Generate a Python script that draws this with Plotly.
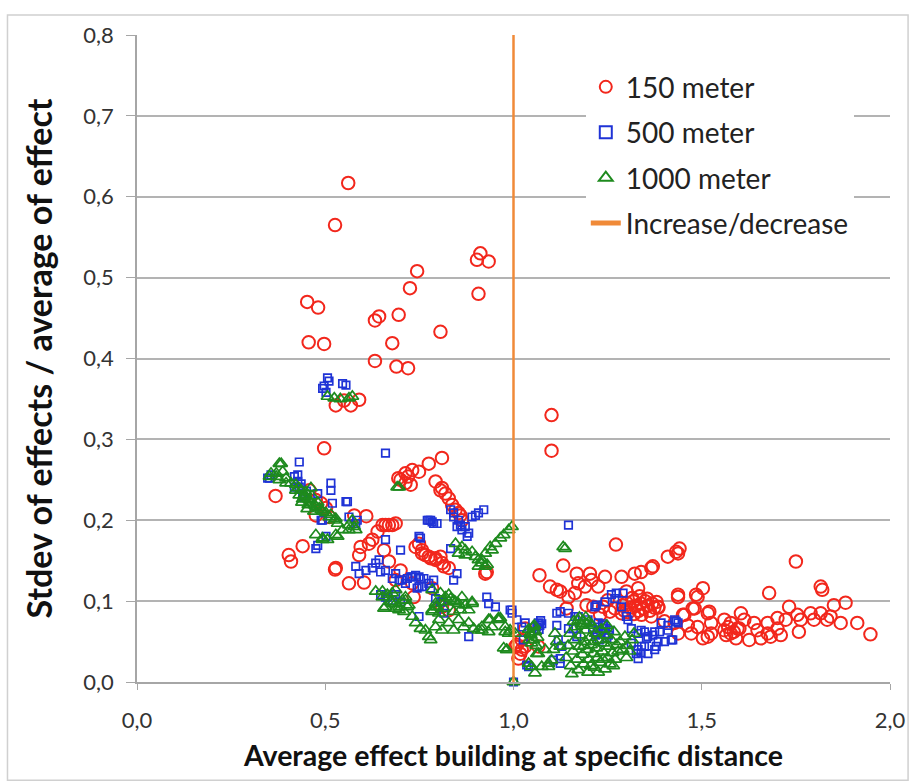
import plotly.graph_objects as go

# ---------------- data ----------------
red_x = [0.561,0.526,0.912,0.903,0.934,0.907,0.744,0.725,0.452,0.481,0.695,0.643,0.632,0.806,0.456,0.497,0.678,0.632,0.689,0.720,0.528,0.568,0.590,0.550,1.101,1.101,
         0.497,0.368,0.403,0.409,0.440,0.526,0.563,0.603,0.590,0.616,0.639,0.609,0.577,0.652,0.660,0.669,0.678,0.687,0.656,0.669,0.700,0.687,0.458,0.475,0.489,0.502,0.475,0.511,0.594,0.625,0.528,
         0.694,0.713,0.731,0.749,0.775,0.810,0.713,0.727,0.700,0.720,
         0.793,0.806,0.819,0.828,0.837,0.846,0.859,0.863,0.810,0.854,
         0.740,0.749,0.757,0.757,0.766,0.775,0.780,0.793,0.793,0.806,0.810,0.815,0.828,0.731,0.784,0.735,0.810,0.828,0.925,0.929,
         1.005,1.018,1.031,1.009,1.022,1.031,1.066,1.022,1.013,
         1.272,1.132,1.069,1.097,1.115,1.124,1.168,1.203,1.243,1.287,1.322,1.339,1.366,1.370,1.410,1.432,1.441,1.437,1.172,1.190,1.163,1.146,1.141,1.207,1.225,1.300,1.331,
         1.290,1.300,1.310,1.318,1.325,1.332,1.338,1.345,1.350,1.356,1.362,1.368,1.374,1.380,1.305,1.320,1.340,1.315,1.335,1.355,1.385,1.295,
         1.194,1.212,1.238,1.256,1.269,1.287,1.250,1.230,
         1.437,1.485,1.503,1.481,1.450,1.516,1.525,1.489,1.463,1.516,1.560,1.577,1.604,1.613,1.595,1.577,1.591,1.679,1.750,1.816,1.820,1.882,1.851,1.913,1.948,
         1.869,1.833,1.816,1.789,1.763,1.754,1.732,1.723,1.701,1.701,1.675,1.675,1.648,1.639,1.626,1.657,1.683,1.710,1.758,1.798,1.842,
         1.454,1.472,1.503,1.525,1.401,1.428,1.437,1.366,1.384,1.476,1.520,1.489,1.437,
         1.560,1.570,1.585,1.600,1.565]
red_y = [0.617,0.565,0.530,0.522,0.520,0.480,0.508,0.487,0.470,0.463,0.454,0.452,0.447,0.433,0.420,0.418,0.419,0.397,0.390,0.388,0.342,0.342,0.349,0.348,0.330,0.286,
         0.289,0.230,0.157,0.149,0.168,0.139,0.122,0.123,0.157,0.171,0.186,0.205,0.206,0.194,0.194,0.194,0.194,0.196,0.163,0.149,0.138,0.126,0.237,0.225,0.221,0.215,0.206,0.204,0.167,0.176,0.141,
         0.252,0.258,0.262,0.260,0.270,0.277,0.246,0.244,0.250,0.254,
         0.248,0.237,0.233,0.227,0.219,0.213,0.206,0.200,0.240,0.209,
         0.167,0.171,0.163,0.159,0.157,0.155,0.153,0.153,0.151,0.155,0.147,0.143,0.141,0.122,0.116,0.105,0.093,0.089,0.134,0.136,
         0.044,0.035,0.044,0.046,0.052,0.066,0.044,0.040,0.029,
         0.170,0.144,0.132,0.118,0.114,0.112,0.134,0.134,0.130,0.130,0.134,0.136,0.141,0.143,0.155,0.161,0.165,0.159,0.122,0.118,0.110,0.105,0.091,0.126,0.118,0.112,0.116,
         0.095,0.098,0.092,0.100,0.094,0.088,0.097,0.091,0.100,0.094,0.088,0.097,0.092,0.099,0.086,0.084,0.083,0.104,0.106,0.103,0.092,0.088,
         0.095,0.093,0.093,0.087,0.091,0.085,0.101,0.083,
         0.108,0.108,0.116,0.091,0.083,0.085,0.073,0.068,0.070,0.056,0.077,0.073,0.085,0.077,0.066,0.060,0.054,0.110,0.149,0.118,0.114,0.098,0.095,0.073,0.059,
         0.073,0.077,0.085,0.085,0.077,0.083,0.093,0.077,0.079,0.066,0.073,0.060,0.064,0.073,0.052,0.054,0.056,0.058,0.062,0.077,0.081,
         0.083,0.060,0.054,0.060,0.075,0.073,0.060,0.081,0.093,0.091,0.087,0.105,0.105,
         0.064,0.068,0.062,0.066,0.058]

blue_x = [0.506,0.546,0.555,0.497,0.493,0.510,0.502,
          0.660,0.431,0.347,0.356,0.418,0.427,0.431,0.515,0.515,0.519,0.559,0.480,0.493,0.563,0.581,0.475,0.480,0.660,0.700,0.749,0.753,0.780,0.788,0.771,0.775,0.784,0.797,
          0.833,0.841,0.854,0.863,0.872,0.881,0.850,0.841,0.859,0.877,0.890,0.907,0.899,0.921,0.833,0.850,0.841,
          0.581,0.590,0.608,0.625,0.634,0.643,0.660,0.687,0.696,0.718,0.731,0.749,0.762,0.775,0.757,0.744,0.780,0.647,0.678,0.704,0.713,0.727,0.740,0.753,0.788,0.749,
          0.665,0.678,0.687,0.749,0.793,0.810,0.815,0.881,0.647,0.660,0.700,0.806,
          0.929,0.934,0.952,0.991,0.996,1.009,1.031,1.035,1.000,
          0.352,0.427,0.418,0.440,0.436,0.445,0.450,0.502,0.555,0.585,0.489,
          1.146,1.066,1.070,1.062,1.075,1.068,1.072,
          1.115,1.115,1.119,1.128,1.124,1.040,1.146,1.159,1.172,1.198,1.225,1.243,
          1.210,1.218,1.225,1.232,1.240,1.248,1.255,1.228,1.245,1.236,1.222,1.252,
          1.220,1.243,1.260,1.273,1.287,1.300,1.313,1.216,1.269,1.291,1.304,1.339,
          1.331,1.357,1.375,1.392,1.410,1.428,1.437,1.419,1.384,1.348,1.331,1.375,1.331,1.357,
          1.348,1.353,1.370,1.388,1.410,1.423,1.432,1.401,1.379,1.340,1.326,
          1.124,1.163,1.146,1.168,1.313,1.339,1.106,1.124,0.996,1.022,1.026]
blue_y = [0.376,0.369,0.367,0.366,0.363,0.372,0.358,
          0.283,0.272,0.252,0.256,0.254,0.248,0.241,0.246,0.237,0.221,0.223,0.233,0.200,0.204,0.196,0.165,0.169,0.176,0.163,0.180,0.178,0.200,0.196,0.200,0.200,0.198,0.196,
          0.213,0.204,0.200,0.188,0.192,0.184,0.192,0.209,0.194,0.180,0.204,0.209,0.206,0.213,0.165,0.134,0.126,
          0.143,0.134,0.138,0.141,0.147,0.151,0.138,0.134,0.126,0.128,0.130,0.130,0.128,0.122,0.118,0.116,0.116,0.136,0.128,0.126,0.122,0.130,0.132,0.128,0.126,0.118,
          0.105,0.101,0.108,0.081,0.103,0.099,0.085,0.056,0.108,0.105,0.099,0.099,
          0.105,0.097,0.093,0.089,0.085,0.077,0.073,0.021,0.000,
          0.252,0.256,0.241,0.233,0.245,0.228,0.236,0.180,0.223,0.200,0.200,
          0.194,0.073,0.070,0.068,0.072,0.065,0.076,
          0.085,0.070,0.052,0.044,0.029,0.019,0.085,0.066,0.081,0.077,0.073,0.060,
          0.065,0.058,0.068,0.060,0.070,0.055,0.064,0.052,0.066,0.072,0.062,0.058,
          0.095,0.099,0.108,0.110,0.093,0.081,0.066,0.093,0.103,0.110,0.077,0.064,
          0.060,0.056,0.062,0.073,0.070,0.077,0.073,0.052,0.050,0.044,0.040,0.040,0.029,0.035,
          0.062,0.054,0.058,0.062,0.064,0.052,0.075,0.050,0.044,0.044,0.035,
          0.087,0.081,0.066,0.056,0.048,0.036,0.027,0.023,0.089,0.068,0.052]

green_x = [0.506,0.524,0.563,0.572,0.540,
           0.352,0.370,0.383,0.378,0.396,0.409,0.422,0.431,0.444,0.458,0.471,0.484,0.493,0.511,0.524,0.533,0.475,0.493,0.528,0.546,0.563,0.572,0.581,
           0.378,0.356,0.370,0.387,0.396,0.422,0.436,0.444,0.453,0.462,0.475,0.489,0.502,0.515,0.528,0.533,0.563,0.577,0.506,0.493,
           0.430,0.440,0.448,0.455,0.465,0.470,0.480,0.452,0.438,0.462,
           0.696,0.691,
           0.846,0.863,0.872,0.890,0.899,0.907,0.916,0.925,0.854,0.872,
           0.943,0.952,0.965,0.974,0.987,0.996,0.938,0.925,0.916,0.907,0.930,
           0.634,0.652,0.660,0.674,0.687,0.696,0.709,0.718,0.731,0.740,0.753,0.766,0.775,0.780,0.793,0.802,0.810,0.828,0.841,0.854,0.868,0.881,0.894,0.907,0.916,0.934,0.943,0.960,0.978,0.987,1.004,0.982,
           0.819,0.828,0.841,0.854,0.872,0.890,0.793,0.784,0.802,
           0.678,0.687,0.705,0.713,0.652,0.665,0.678,0.656,0.687,0.696,0.713,0.722,
           0.784,0.793,0.806,0.819,0.833,0.846,0.863,0.890,0.881,0.859,0.841,0.784,0.797,0.815,
           1.137,1.132,0.965,0.938,0.916,0.934,0.982,0.991,1.000,0.960,0.978,0.974,
           1.044,1.053,1.062,1.075,1.093,1.106,1.124,1.048,1.057,1.040,1.093,1.101,1.066,1.084,
           1.040,1.046,1.052,1.058,1.064,1.048,1.060,1.055,1.042,
           1.140,1.145,1.150,1.152,1.158,1.162,1.165,1.168,1.172,1.175,1.178,1.180,1.183,1.186,1.190,1.192,1.195,1.198,1.200,1.203,1.206,1.209,1.212,1.215,1.218,1.220,1.223,1.226,1.230,1.233,1.236,1.240,1.243,1.246,1.250,1.253,1.256,1.260,1.263,1.267,1.270,1.274,1.278,1.160,1.175,1.185,1.195,1.205,1.225,1.248,1.155,1.188,1.213,1.238,1.265,
           1.283,1.290,1.296,1.302,1.308,1.315,1.320,1.300,
           1.172,1.182,1.192,1.200,1.115,1.110]
green_y = [0.353,0.351,0.351,0.353,0.350,
           0.254,0.258,0.270,0.250,0.252,0.246,0.237,0.231,0.229,0.225,0.219,0.215,0.211,0.204,0.200,0.196,0.182,0.178,0.182,0.188,0.194,0.200,0.188,
           0.270,0.258,0.254,0.260,0.246,0.244,0.237,0.231,0.227,0.221,0.217,0.213,0.209,0.207,0.202,0.180,0.188,0.192,0.176,0.176,
           0.240,0.226,0.235,0.219,0.230,0.211,0.222,0.214,0.222,0.240,
           0.241,0.241,
           0.171,0.167,0.163,0.161,0.155,0.151,0.147,0.143,0.159,0.157,
           0.163,0.171,0.178,0.182,0.188,0.192,0.167,0.159,0.151,0.143,0.145,
           0.112,0.105,0.093,0.099,0.097,0.093,0.087,0.093,0.081,0.073,0.066,0.064,0.056,0.052,0.068,0.077,0.064,0.073,0.064,0.077,0.068,0.073,0.066,0.064,0.068,0.077,0.068,0.077,0.068,0.060,0.060,0.040,
           0.099,0.108,0.101,0.097,0.095,0.097,0.093,0.089,0.085,
           0.110,0.114,0.101,0.105,0.112,0.108,0.097,0.091,0.091,0.089,0.101,0.095,
           0.114,0.097,0.110,0.105,0.103,0.099,0.105,0.099,0.089,0.089,0.087,0.087,0.093,0.091,
           0.165,0.167,0.079,0.077,0.064,0.062,0.040,0.064,0.000,0.079,0.062,0.042,
           0.060,0.052,0.035,0.019,0.023,0.040,0.044,0.019,0.011,0.023,0.019,0.027,0.035,0.040,
           0.065,0.058,0.068,0.062,0.055,0.048,0.045,0.070,0.052,
           0.030,0.045,0.060,0.020,0.038,0.052,0.068,0.028,0.015,0.044,0.058,0.072,0.034,0.022,0.050,0.064,0.040,0.012,0.028,0.055,0.046,0.070,0.035,0.018,0.060,0.042,0.030,0.052,0.024,0.065,0.038,0.048,0.016,0.058,0.030,0.044,0.022,0.052,0.036,0.062,0.028,0.046,0.038,0.075,0.080,0.076,0.072,0.020,0.012,0.070,0.010,0.045,0.050,0.028,0.020,
           0.050,0.040,0.056,0.045,0.038,0.052,0.060,0.030,
           0.076,0.070,0.080,0.074,0.050,0.060]

line_x = [1.0, 1.0]
line_y = [0.0, 0.8]

x_ticks = [0.0, 0.5, 1.0, 1.5, 2.0]
y_ticks = [0.0, 0.1, 0.2, 0.3, 0.4, 0.5, 0.6, 0.7, 0.8]

series_names = ["150 meter", "500 meter", "1000 meter", "Increase/decrease"]

# ---------------- figure ----------------
FONT = "Lato, 'Open Sans', sans-serif"
RED = "#F2271C"
BLUE = "#1F33D6"
GREEN = "#1E8A1E"
ORANGE = "#F08A38"

fig = go.Figure()
fig.add_trace(go.Scatter(x=red_x, y=red_y, mode="markers", name=series_names[0], legendgroup="a",
                         marker=dict(symbol="circle-open", size=12.5, color=RED, line=dict(width=2, color=RED)),
                         cliponaxis=False))
fig.add_trace(go.Scatter(x=blue_x, y=blue_y, mode="markers", name=series_names[1], legendgroup="b",
                         marker=dict(symbol="square-open", size=7.5, color=BLUE, line=dict(width=1.7, color=BLUE)),
                         cliponaxis=False))
fig.add_trace(go.Scatter(x=green_x, y=green_y, mode="markers", name=series_names[2], legendgroup="c",
                         marker=dict(symbol="triangle-up-open", size=11, color=GREEN, line=dict(width=1.7, color=GREEN)),
                         cliponaxis=False))
fig.add_trace(go.Scatter(x=line_x, y=line_y, mode="lines", name=series_names[3], legendgroup="d",
                         line=dict(color=ORANGE, width=2.5)))

fig.update_layout(
    width=917, height=783,
    margin=dict(l=137, r=24, t=35, b=101),
    paper_bgcolor="white", plot_bgcolor="white",
    separators=",.",
    font=dict(family=FONT, color="#222222"),
    legend=dict(x=0.596, y=0.958, xanchor="left", yanchor="top",
                bgcolor="white", font=dict(size=28, family=FONT, color="#222222"),
                tracegroupgap=6, itemsizing="constant", traceorder="grouped"),
    xaxis=dict(range=[0, 2], tickvals=x_ticks, tickformat=".1f",
               showgrid=False, showline=True, linecolor="#A6A6A6", linewidth=1.5,
               ticks="outside", ticklen=6, tickcolor="#A6A6A6", zeroline=False,
               ticklabelstandoff=12,
               tickfont=dict(size=22, family=FONT, color="#333333"),
               title=dict(text="<b>Average effect building at specific distance</b>",
                          font=dict(size=28.5, family=FONT, color="#111111"), standoff=14)),
    yaxis=dict(range=[0, 0.8], tickvals=y_ticks, tickformat=".1f",
               showgrid=True, gridcolor="#B3B3B3", gridwidth=2,
               showline=True, linecolor="#A6A6A6", linewidth=1.5,
               ticks="outside", ticklen=9, tickcolor="#A6A6A6", zeroline=False,
               ticklabelstandoff=8,
               tickfont=dict(size=22, family=FONT, color="#333333"),
               title=dict(text="<b>Stdev of effects / average of effect</b>",
                          font=dict(size=34, family=FONT, color="#111111"), standoff=20)),
    shapes=[dict(type="rect", xref="paper", yref="paper", x0=-0.172, x1=1.024, y0=-0.152, y1=1.031,
                 line=dict(color="#D0D0D0", width=1.5), fillcolor="rgba(0,0,0,0)", layer="below")],
)

fig.write_html("out.html")
